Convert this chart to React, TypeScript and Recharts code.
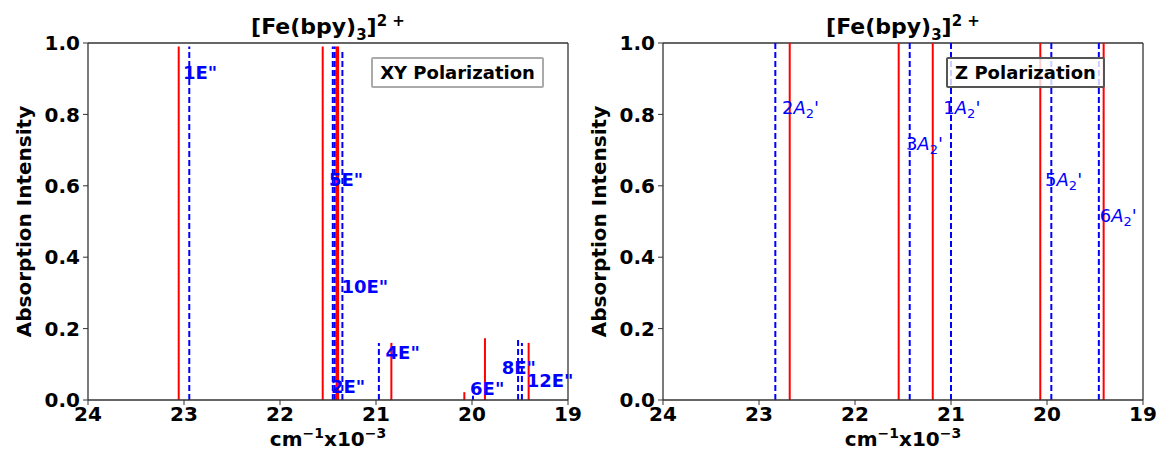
import React from "react";
import { ComposedChart, XAxis, YAxis, ReferenceLine, Scatter, Label } from "recharts";

const FONT = "'DejaVu Sans', Verdana, sans-serif";

const xTicks = [24, 23, 22, 21, 20, 19];
const yTicks = [0, 0.2, 0.4, 0.6, 0.8, 1.0];

// XY polarization: red = sticks, blue dashed = assigned E" states
const xyRedX = [23.055, 21.555, 21.41, 21.395, 20.84, 20.08, 19.865, 19.41];
const xyRedY = [0.99, 0.99, 0.99, 0.99, 0.16, 0.022, 0.173, 0.16];
const xyBlueX = [22.945, 21.45, 21.43, 21.35, 20.97, 19.99, 19.52, 19.48];
const xyBlueY = [0.99, 0.99, 0.99, 0.98, 0.16, 0.012, 0.173, 0.16];
const xyLabelText = ['1E"', '5E"', '10E"', '4E"', '2E"', '6E"', '8E"', '12E"'];
const xyLabelX = [23.01, 21.49, 21.36, 20.9, 21.47, 20.02, 19.69, 19.43];
const xyLabelY = [0.9, 0.6, 0.3, 0.115, 0.02, 0.013, 0.073, 0.037];

// Z polarization
const zRedX = [22.68, 21.545, 21.19, 20.07, 19.41];
const zRedY = [1, 1, 1, 1, 1];
const zBlueX = [22.83, 21.43, 21.0, 19.955, 19.46];
const zBlueY = [1, 1, 1, 1, 1];
const zLabelNum = ["2", "3", "1", "5", "6"];
const zLabelX = [22.76, 21.47, 21.08, 20.02, 19.45];
const zLabelY = [0.8, 0.7, 0.8, 0.6, 0.5];

const xyLabels = xyLabelText.map((t, i) => ({ x: xyLabelX[i], y: xyLabelY[i], text: t }));
const zLabels = zLabelNum.map((t, i) => ({ x: zLabelX[i], y: zLabelY[i], text: t }));

const BoldLabel = (p: any) => (
  <text x={p.cx} y={p.cy} fill="#0000ff" fontFamily={FONT} fontWeight="bold" fontSize={18}>
    {p.payload.text}
  </text>
);

const ZLabel = (p: any) => (
  <text x={p.cx} y={p.cy} fill="#0000ff" fontFamily={FONT} fontSize={18}>
    {p.payload.text}
    <tspan fontStyle="italic">A</tspan>
    <tspan dy={4} fontSize={13}>2</tspan>
    <tspan dy={-4}>'</tspan>
  </text>
);

const YTitle = (p: any) => {
  const vb = p.viewBox;
  const x = vb.x + 16;
  const y = vb.y + vb.height / 2;
  return (
    <text x={x} y={y} transform={`rotate(-90 ${x} ${y})`} textAnchor="middle" dominantBaseline="central"
      fontFamily={FONT} fontWeight="bold" fontSize={20} fill="#000">
      Absorption Intensity
    </text>
  );
};

const XTitle = (p: any) => {
  const vb = p.viewBox;
  return (
    <text x={vb.x + vb.width / 2} y={vb.y + 46} textAnchor="middle" fontFamily={FONT} fontWeight="bold" fontSize={20} fill="#000">
      cm<tspan dy={-8} fontSize={14}>−1</tspan><tspan dy={8}>x10</tspan><tspan dy={-8} fontSize={14}>−3</tspan>
    </text>
  );
};

const tickStyle = { fontFamily: FONT, fontWeight: "bold" as const, fontSize: 20, fill: "#000" };

function Panel(props: {
  left: number;
  width: number;
  rightMargin: number;
  redX: number[];
  redY: number[];
  blueX: number[];
  blueY: number[];
  labels: any[];
  labelShape: any;
  legend: string;
  legendLeft: number;
  legendWidth: number;
  legendBorder: string;
}) {
  const { left, width, rightMargin, redX, redY, blueX, blueY, labels, labelShape } = props;
  return (
    <div style={{ position: "absolute", left, top: 0, width, height: 452 }}>
      <div style={{
        position: "absolute", left: 88, top: 6, width: 480, textAlign: "center",
        fontFamily: FONT, fontWeight: "bold", fontSize: 22, lineHeight: "30px",
      }}>
        [Fe(bpy)<sub style={{ fontSize: 15 }}>3</sub>]<sup style={{ fontSize: 15 }}>2 +</sup>
      </div>
      <ComposedChart width={width} height={452} margin={{ top: 43, right: rightMargin, bottom: 22, left: 8 }}>
        <XAxis type="number" dataKey="x" domain={[19, 24]} reversed ticks={xTicks}
          height={30} tick={tickStyle} tickSize={5} tickMargin={2}
          axisLine={{ stroke: "#333", strokeWidth: 1.3 }} tickLine={{ stroke: "#333" }}>
          <Label content={XTitle} />
        </XAxis>
        <YAxis type="number" dataKey="y" domain={[0, 1]} ticks={yTicks}
          width={80} tick={tickStyle} tickSize={5} tickMargin={3}
          tickFormatter={(v: number) => v.toFixed(1)}
          axisLine={{ stroke: "#333", strokeWidth: 1.3 }} tickLine={{ stroke: "#333" }}>
          <Label content={YTitle} />
        </YAxis>
        <ReferenceLine y={1} stroke="#333" strokeWidth={1.3} />
        <ReferenceLine x={19} stroke="#333" strokeWidth={1.3} />
        {redX.map((x, i) => (
          <ReferenceLine key={"r" + i} segment={[{ x, y: 0 }, { x, y: redY[i] }]} stroke="#ff0000" strokeWidth={2} />
        ))}
        {blueX.map((x, i) => (
          <ReferenceLine key={"b" + i} segment={[{ x, y: 0 }, { x, y: blueY[i] }]} stroke="#0000ff" strokeWidth={2}
            strokeDasharray="6 3" />
        ))}
        <Scatter data={labels} dataKey="y" shape={labelShape} isAnimationActive={false} />
      </ComposedChart>
      <div style={{
        position: "absolute", left: props.legendLeft - left, top: 57, width: props.legendWidth, height: 31,
        boxSizing: "border-box", border: `2px solid ${props.legendBorder}`, borderRadius: 2,
        background: "rgba(255,255,255,0.8)", fontFamily: FONT, fontWeight: "bold", fontSize: 18,
        lineHeight: "27px", textAlign: "center", color: "#000",
      }}>
        {props.legend}
      </div>
    </div>
  );
}

export default function App() {
  return (
    <div style={{ position: "absolute", left: 0, top: 0, width: 1162, height: 452, background: "#fff", overflow: "hidden" }}>
      <Panel left={0} width={592} rightMargin={24} redX={xyRedX} redY={xyRedY} blueX={xyBlueX} blueY={xyBlueY}
        labels={xyLabels} labelShape={BoldLabel} legend="XY Polarization" legendLeft={371} legendWidth={173}
        legendBorder="#aaa" />
      <Panel left={575} width={587} rightMargin={19} redX={zRedX} redY={zRedY} blueX={zBlueX} blueY={zBlueY}
        labels={zLabels} labelShape={ZLabel} legend="Z Polarization" legendLeft={946} legendWidth={159}
        legendBorder="#555" />
    </div>
  );
}
